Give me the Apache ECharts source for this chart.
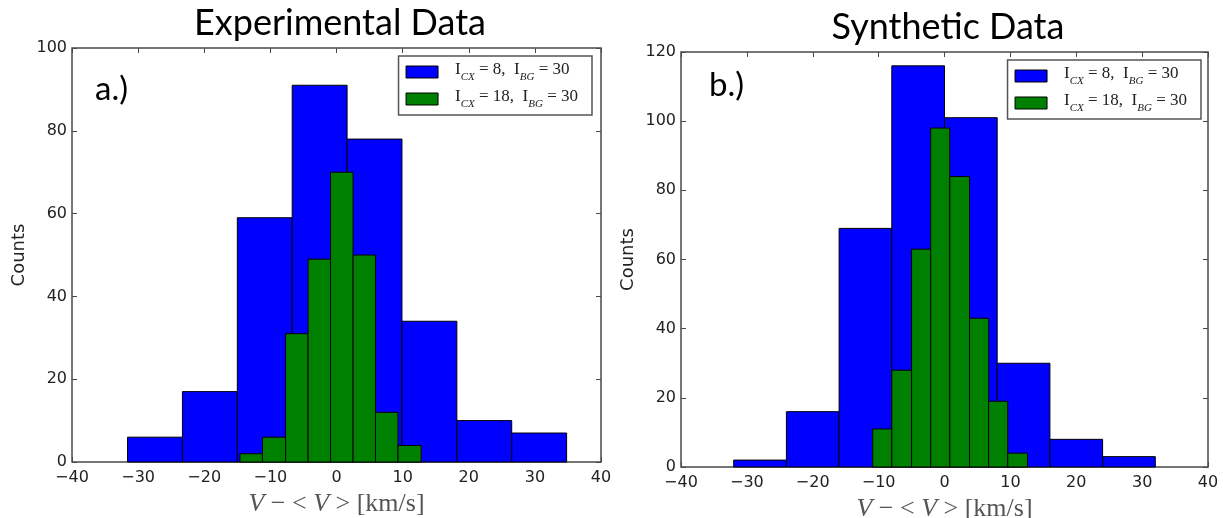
<!DOCTYPE html>
<html><head><meta charset="utf-8">
<script src="https://cdn.jsdelivr.net/npm/echarts@6/dist/echarts.min.js"></script>
<style>html,body{margin:0;padding:0;background:#fff}#c{width:1223px;height:518px}</style>
</head><body><div id="c"></div>
<script>
// ---- data ----
const titles = ['Experimental Data', 'Synthetic Data'];
const panelTags = ['a.)', 'b.)'];
const seriesNames = ['cx8', 'cx18'];
const xTicks = [-40, -30, -20, -10, 0, 10, 20, 30, 40];
const leftYTicks = [0, 20, 40, 60, 80, 100];
const rightYTicks = [0, 20, 40, 60, 80, 100, 120];
// left panel (experimental)
const leftBlueEdges = [-31.6, -23.3, -15.0, -6.7, 1.6, 9.9, 18.2, 26.5, 34.8];
const leftBlueCounts = [6, 17, 59, 91, 78, 34, 10, 7];
const leftGreenEdges = [-14.6, -11.2, -7.7, -4.3, -0.9, 2.5, 5.9, 9.3, 12.8];
const leftGreenCounts = [2, 6, 31, 49, 70, 50, 12, 4];
// right panel (synthetic)
const rightBlueEdges = [-32, -24, -16, -8, 0, 8, 16, 24, 32];
const rightBlueCounts = [2, 16, 69, 116, 101, 30, 8, 3];
const rightGreenEdges = [-10.9, -8.0, -5.0, -2.1, 0.8, 3.8, 6.7, 9.6, 12.6];
const rightGreenCounts = [11, 28, 63, 98, 84, 43, 19, 4];

const BLUE = '#0000ff', GREEN = '#008000';
const SPINE = '#4a4a4a';
const TICKFONT = 'DejaVu Sans';
const SERIF = 'Liberation Serif';

function bins(edges, counts) {
  return counts.map((c, i) => [edges[i], edges[i + 1], c]);
}
function histSeries(name, edges, counts, color, idx) {
  return {
    type: 'custom', name: name, xAxisIndex: idx, yAxisIndex: idx,
    itemStyle: {color: color, borderColor: '#000', borderWidth: 1},
    encode: {x: [0, 1], y: 2},
    data: bins(edges, counts),
    renderItem: function (params, api) {
      const p0 = api.coord([api.value(0), api.value(2)]);
      const p1 = api.coord([api.value(1), 0]);
      return {type: 'rect',
        shape: {x: p0[0], y: p0[1], width: p1[0] - p0[0], height: p1[1] - p0[1]},
        style: {fill: color, stroke: '#000', lineWidth: 1}};
    }
  };
}
const fmtMinus = v => (v < 0 ? '\u2212' + Math.abs(v) : String(v));

const grids = [
  {left: 72, top: 48, width: 529, height: 414, show: true, borderColor: SPINE, borderWidth: 1.5,
    containLabel: false, outerBoundsMode: 'none'},
  {left: 681, top: 52, width: 527, height: 415, show: true, borderColor: SPINE, borderWidth: 1.5,
    containLabel: false, outerBoundsMode: 'none'}
];
function xAx(gi, pos, labels) {
  return {type: 'value', gridIndex: gi, position: pos, min: xTicks[0], max: xTicks[xTicks.length - 1], interval: 10,
    axisLine: {show: false, onZero: false}, splitLine: {show: false},
    axisTick: {show: true, inside: true, length: 5, lineStyle: {color: SPINE, width: 1}},
    axisLabel: {show: labels, margin: 8, fontFamily: TICKFONT, fontSize: 16, color: '#222', formatter: fmtMinus},
    name: labels ? '{v|V} \u2212 < {v|V} > [km/s]' : '', nameLocation: 'middle', nameGap: 25,
    nameTextStyle: {fontFamily: SERIF, fontSize: 26, color: '#555', verticalAlign: 'top',
      rich: {v: {fontFamily: SERIF, fontStyle: 'italic', fontSize: 26, color: '#555'}}}};
}
function yAx(gi, pos, ticks, labels) {
  return {type: 'value', gridIndex: gi, position: pos, min: ticks[0], max: ticks[ticks.length - 1], interval: 20,
    axisLine: {show: false, onZero: false}, splitLine: {show: false},
    axisTick: {show: true, inside: true, length: 5, lineStyle: {color: SPINE, width: 1}},
    axisLabel: {show: labels, margin: 5, fontFamily: TICKFONT, fontSize: 16, color: '#222'},
    name: labels ? 'Counts' : '', nameLocation: 'middle', nameGap: 44, nameRotate: 90,
    nameTextStyle: {fontFamily: TICKFONT, fontSize: 18, color: '#222'}};
}
const legendText = {
  cx8: '{n|I}{s|CX}{n| = 8,  I}{s|BG}{n| = 30}',
  cx18: '{n|I}{s|CX}{n| = 18,  I}{s|BG}{n| = 30}'
};
function legend(right, top) {
  return {orient: 'vertical', right: right, top: top, padding: [5, 14, 5, 7], itemGap: 5,
    itemWidth: 32, itemHeight: 12, icon: 'rect',
    borderColor: '#555', borderWidth: 1.5, backgroundColor: '#fff', selectedMode: false,
    data: [
      {name: 'cx8', itemStyle: {color: BLUE, borderColor: '#000', borderWidth: 1}},
      {name: 'cx18', itemStyle: {color: GREEN, borderColor: '#000', borderWidth: 1}}
    ],
    formatter: n => '{g|}' + legendText[n],
    textStyle: {rich: {
      g: {width: 12},
      n: {fontFamily: SERIF, fontSize: 17, color: '#222', lineHeight: 22, verticalAlign: 'top'},
      s: {fontFamily: SERIF, fontSize: 11, fontStyle: 'italic', color: '#222', lineHeight: 12, verticalAlign: 'bottom'}
    }}};
}

const chart = echarts.init(document.getElementById('c'), null, {renderer: 'canvas'});
chart.setOption({
  animation: false,
  title: [
    {text: titles[0], left: 335, top: 0, textAlign: 'center',
      textStyle: {fontFamily: 'Lato', fontWeight: 'normal', fontSize: 36, color: '#000'}},
    {text: titles[1], left: 943, top: 4, textAlign: 'center',
      textStyle: {fontFamily: 'Lato', fontWeight: 'normal', fontSize: 36, color: '#000'}},
    {text: panelTags[0], left: 90, top: 68, textStyle: {fontFamily: 'Lato', fontWeight: 'normal', fontSize: 33, color: '#000'}},
    {text: panelTags[1], left: 704, top: 64, textStyle: {fontFamily: 'Lato', fontWeight: 'normal', fontSize: 33, color: '#000'}}
  ],
  grid: grids,
  xAxis: [xAx(0, 'bottom', true), xAx(0, 'top', false), xAx(1, 'bottom', true), xAx(1, 'top', false)].map((a, i) => Object.assign(a, {gridIndex: i < 2 ? 0 : 1})),
  yAxis: [yAx(0, 'left', leftYTicks, true), yAx(0, 'right', leftYTicks, false), yAx(1, 'left', rightYTicks, true), yAx(1, 'right', rightYTicks, false)],
  legend: [legend(1223 - 592, 56), legend(1223 - 1201, 60)],
  series: [
    histSeries(seriesNames[0], leftBlueEdges, leftBlueCounts, BLUE, 0),
    histSeries(seriesNames[1], leftGreenEdges, leftGreenCounts, GREEN, 0),
    histSeries(seriesNames[0], rightBlueEdges, rightBlueCounts, BLUE, 2),
    histSeries(seriesNames[1], rightGreenEdges, rightGreenCounts, GREEN, 2)
  ]
});
</script></body></html>
